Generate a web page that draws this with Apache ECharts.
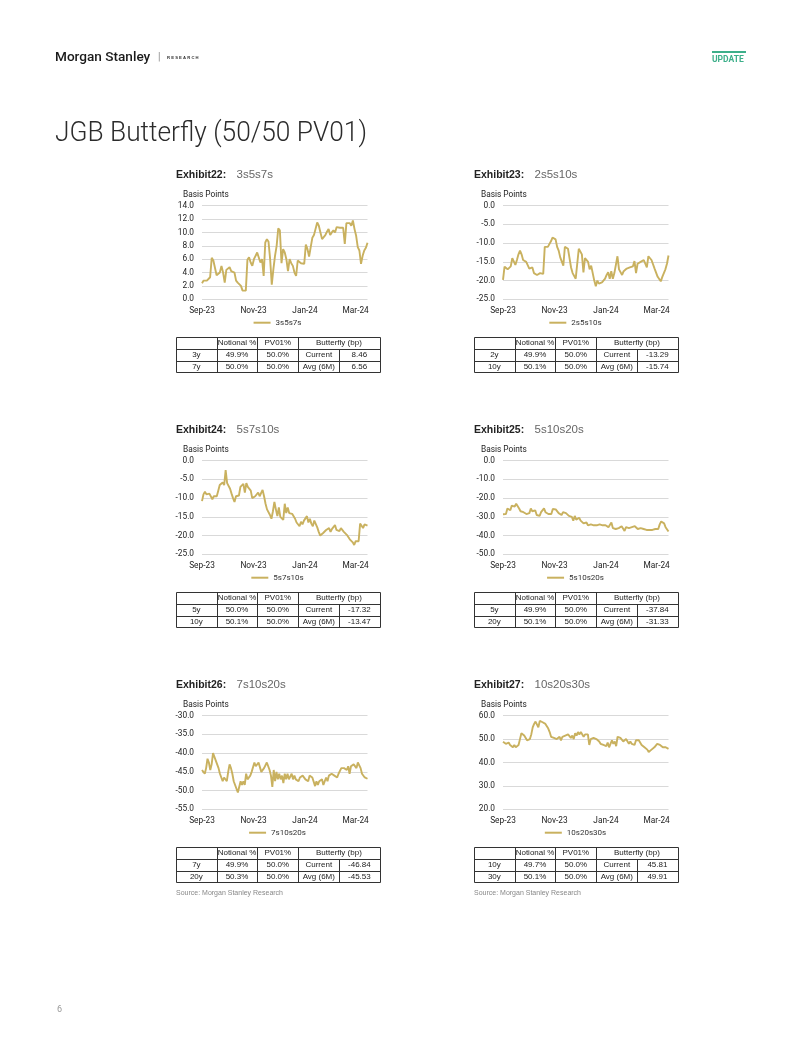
<!DOCTYPE html>
<html>
<head>
<meta charset="utf-8">
<script src="https://cdn.jsdelivr.net/npm/echarts@6.0.0/dist/echarts.min.js"></script>
<style>
html,body{margin:0;padding:0;background:#fff;}
#chart{width:802px;height:1037px;}
</style>
</head>
<body>
<div id="chart"></div>
<script>
// ---------------- DATA ----------------
// x axis: days since 1 Sep 2023; observations run to 15 Mar 2024 (day 196)
const LAST_DAY = 196;
const tickDays = [0, 61, 122, 182];
const tickLabels = ['Sep-23', 'Nov-23', 'Jan-24', 'Mar-24'];

const exhibitLabels = ['Exhibit22:', 'Exhibit23:', 'Exhibit24:', 'Exhibit25:', 'Exhibit26:', 'Exhibit27:'];
const seriesNames = ['3s5s7s', '2s5s10s', '5s7s10s', '5s10s20s', '7s10s20s', '10s20s30s'];

const fly3s5s7s = [2.4,2.8,3.0,2.8,3.0,3.3,6.2,5.8,5.7,3.6,3.7,4.0,5.0,4.0,2.5,4.4,4.5,4.8,4.2,4.0,4.0,2.8,2.5,2.3,2.0,1.3,1.1,1.3,5.9,6.3,5.5,5.0,6.0,6.5,7.0,6.8,5.5,6.0,3.5,8.5,9.0,8.6,6.0,2.2,4.5,6.5,8.0,10.6,10.3,5.4,7.5,7.0,6.0,4.2,6.0,5.4,5.0,4.0,3.5,5.8,5.6,5.4,5.3,5.3,8.2,7.5,6.4,7.8,9.2,9.6,9.8,11.5,11.0,10.0,9.0,9.1,9.6,10.1,10.5,9.6,10.0,10.3,10.0,10.8,10.8,10.7,10.8,10.7,8.3,11.4,11.6,11.4,11.0,11.8,10.5,9.5,7.8,7.3,5.3,6.5,7.3,7.7,8.46];
const fly2s5s10s = [-19.8,-16.3,-16.5,-17,-16.5,-16.2,-14,-14.5,-15.8,-14.5,-13,-12,-13,-14.5,-14,-15,-15.5,-16.8,-17,-16.5,-18,-17.5,-18.5,-19,-18,-18.5,-18.2,-11,-10.5,-11,-10.5,-9.5,-8.5,-8.2,-9,-11,-12,-13.8,-14,-16,-11,-10.5,-11.5,-14,-16.5,-18,-18.5,-19.5,-19.5,-11.5,-11,-13,-17.8,-14,-14.5,-15,-17,-16,-18,-20,-21.5,-20,-20.8,-21,-20.5,-20,-19.5,-18.5,-17.8,-19.5,-17.5,-19.5,-18,-18.5,-13.5,-17,-17.5,-18.5,-17.5,-17,-16.8,-16.5,-16.5,-16,-16.2,-14.8,-18,-15.5,-15.5,-15,-14.5,-14.5,-14.5,-16.5,-13.5,-14,-14.5,-14,-16.8,-17,-19,-19.5,-20.2,-19,-18,-17,-15.5,-13.29];
const fly5s7s10s = [-10.8,-9,-8.3,-9,-9.5,-8.8,-9,-10.3,-9.5,-10,-9.5,-8,-6.5,-6,-5.8,-6.5,-2.5,-6,-6.5,-7.5,-8.8,-10,-11,-9.5,-9.5,-9.3,-7,-6.8,-6.2,-8.5,-6,-7,-6.8,-8,-10,-9.8,-9.5,-9,-8.5,-9.5,-9,-7.8,-9.5,-11.5,-13,-13.5,-14.5,-15.5,-13.5,-11,-13,-14.8,-12.5,-15,-14.5,-15.8,-11.5,-14,-12.5,-14,-13.8,-14.2,-14.5,-15.5,-16.5,-16.8,-17.5,-16.3,-17,-16,-15.5,-14.8,-16.5,-15.5,-16.8,-17.5,-16,-16.5,-17.8,-19,-20,-19.5,-19.3,-18.8,-18.5,-18.5,-18,-19,-18.2,-18.5,-17.2,-18.5,-18.5,-18.8,-18,-18.5,-19,-18.5,-19.8,-20,-21,-21.5,-21.8,-22.5,-21.5,-22,-21.5,-16.8,-17,-18,-17,-16.5,-17.32];
const fly5s10s20s = [-28.6,-29,-28.5,-25.5,-25,-26.5,-24,-23,-24.5,-23,-23.5,-25.5,-27,-26,-27.5,-28.5,-28.5,-29,-28,-25.5,-27,-27.5,-26.5,-29,-28,-29.5,-27.5,-28.5,-25.5,-27.5,-26.5,-28.5,-28.8,-28.5,-25.8,-25.5,-26,-27,-28,-28.5,-29,-27.5,-28.5,-28,-27.5,-29.5,-28.5,-30,-32,-29.5,-31.5,-32.5,-30.5,-32,-32,-33.5,-32.5,-33,-34.5,-33.5,-34,-35,-34.5,-33.5,-34.5,-35,-34,-34.5,-34.5,-34,-34.5,-35,-35.5,-36.5,-33,-36,-36,-36.5,-35.5,-36,-35.5,-35,-35.5,-37.5,-35.5,-35,-36,-36,-35.5,-35.5,-35,-35.5,-36.5,-37.5,-36,-35.5,-36.5,-36.5,-37,-36.8,-37,-36.2,-37,-36.5,-36.5,-36,-36.5,-34,-32.5,-32.5,-33.5,-35.5,-36.5,-37.84];
const fly7s10s20s = [-44.5,-45,-45.5,-44,-41.5,-42.5,-44.5,-43,-40,-41,-42,-42.5,-44,-45.5,-46.5,-47.5,-46.5,-47,-47.5,-45,-43,-44,-45.5,-47.5,-48.5,-49.5,-50.5,-50,-47.5,-48.5,-47.5,-48.5,-45.5,-47,-46.5,-46,-45,-44.5,-42.5,-43.5,-43,-42.5,-43,-45,-44.5,-44,-43.5,-42.5,-43.5,-44.5,-46,-49,-44.5,-47.5,-45,-47,-45.5,-47,-46,-48,-45.5,-47,-45.5,-47,-46.5,-45.5,-47,-46,-47,-46.5,-47.5,-46.5,-47,-46,-46.5,-47,-46.5,-47.5,-46,-45.5,-46.5,-47,-48.8,-47.5,-48.5,-47.5,-48,-47,-48.5,-47.5,-46.5,-47.5,-46,-46.5,-45.5,-45,-46,-45.5,-46.5,-45.5,-45,-44,-44.5,-44,-43.5,-44.5,-43.5,-45.5,-43.5,-44,-43,-43.5,-44,-42.5,-43,-44,-45.5,-45,-46.5,-47,-46.84];
const fly10s20s30s = [48.9,49.5,48,47.5,48.5,47.5,47.5,46.5,47.5,46.5,46.5,47.5,50,52.5,52,51.5,52,49.5,49,50,52,55,56.5,57.5,57,55,57.8,57.5,57.2,56.5,56.5,55.5,54.5,53,51,50.5,50.5,51,50,50.5,51,49.5,51,50.5,51.5,51,52,51.5,50.5,51.5,50,52.5,51.5,53,52,53,52.5,51,52,51.5,52,47.5,50,50.5,50.5,50,50,49.5,49,48,48.5,47.5,48,47,48.5,46.5,47,49.5,48,49,47,51,51.5,50.5,50,49,49.5,50,49.5,48,49,48,48.5,47.5,49.5,50,49.5,49.5,47.5,47,46.5,47,45.5,44.5,45,45.5,45,46.5,46,48,47.5,47.5,48,46.5,47,46.5,46,45.81];
const seriesValues = [fly3s5s7s, fly2s5s10s, fly5s7s10s, fly5s10s20s, fly7s10s20s, fly10s20s30s];

const yMins = [0, -25, -25, -50, -55, 20];
const yMaxs = [14, 0, 0, 0, -30, 60];
const yIntervals = [2, 5, 5, 10, 5, 10];

const tableHeader = ['', 'Notional %', 'PV01%', 'Butterfly (bp)'];
const legTenors = [['3y','7y'], ['2y','10y'], ['5y','10y'], ['5y','20y'], ['7y','20y'], ['10y','30y']];
const notionalPct = [['49.9%','50.0%'], ['49.9%','50.1%'], ['50.0%','50.1%'], ['49.9%','50.1%'], ['49.9%','50.3%'], ['49.7%','50.1%']];
const pv01Pct = [['50.0%','50.0%'], ['50.0%','50.0%'], ['50.0%','50.0%'], ['50.0%','50.0%'], ['50.0%','50.0%'], ['50.0%','50.0%']];
const statLabels = ['Current', 'Avg (6M)'];
const currentBp = ['8.46', '-13.29', '-17.32', '-37.84', '-46.84', '45.81'];
const avg6mBp = ['6.56', '-15.74', '-13.47', '-31.33', '-45.53', '49.91'];

// ---------------- STYLE / LAYOUT ----------------
const LINE_COLOR = '#C9B15F';
const GRID_COLOR = '#D9D9D9';
const FONT = 'Roboto, "Liberation Sans", Arial, sans-serif';
const TFONT = '"Liberation Sans", Arial, sans-serif';
const COL_TEXT_X = [176, 474];
const COL_GRID_X = [202, 503];
const GRID_W = 165.5;
const ROW_STEP = 255;
const GRID_TOP0 = 205.7;
const GRID_H = 93.6;
const TABLE_COLS = [0, 40.7, 81.3, 122.3, 163.3, 203.5];
const TABLE_TOP0 = 337;
const TABLE_ROWS = [0, 12.3, 23.6, 35];

const measureCtx = document.createElement('canvas').getContext('2d');
function textWidth(t, font) { measureCtx.font = font; return measureCtx.measureText(t).width; }
function fmtDay(v) { const k = tickDays.indexOf(Math.round(v)); return k >= 0 ? tickLabels[k] : ''; }
const px = v => Math.round(v) + 0.5;

const grids = [], xAxes = [], yAxes = [], series = [], legends = [], elements = [];

function addText(x, y, text, style, extra) {
  elements.push(Object.assign({ type: 'text', x: x, y: y, silent: true,
    style: Object.assign({ text: text, fill: '#222', fontSize: 8, fontFamily: TFONT, align: 'left', verticalAlign: 'middle' }, style || {}) }, extra || {}));
}
function addLine(x1, y1, x2, y2, color, w) {
  elements.push({ type: 'line', silent: true, shape: { x1: x1, y1: y1, x2: x2, y2: y2 },
    style: { stroke: color || '#333', lineWidth: w || 1 } });
}

// Header
addText(55, 57.5, 'Morgan Stanley', { fontSize: 13.6, fontWeight: 500, fontFamily: FONT, fill: '#1a1a1a' });
addText(158, 57.5, '|', { fontSize: 10, fontFamily: FONT, fill: '#888' });
addText(167, 58, 'R E S E A R C H', { fontSize: 4.2, fontWeight: 'bold', fontFamily: TFONT, fill: '#333' });
elements.push({ type: 'rect', silent: true, shape: { x: 712, y: 51, width: 34, height: 2 }, style: { fill: '#3DAF8A' } });
addText(712, 59.5, 'UPDATE', { fontSize: 8.5, fontWeight: 'bold', fontFamily: FONT, fill: '#3DAF8A' });
const TITLE = 'JGB Butterfly (50/50 PV01)';
const titleFont = '300 28px ' + FONT;
const titleScale = 312 / textWidth(TITLE, titleFont);
addText(0, 0, TITLE, { fontSize: 28, fontWeight: 300, fontFamily: FONT, fill: '#2b2b2b' },
        { x: 55, y: 133.5, scaleX: Math.min(1, titleScale) });
addText(57, 1010, '6', { fontSize: 9, fontFamily: FONT, fill: '#999' });

for (let i = 0; i < 6; i++) {
  const col = i % 2, row = Math.floor(i / 2);
  const tx = COL_TEXT_X[col], off = row * ROW_STEP;
  const gTop = GRID_TOP0 + off;

  addText(tx, 174.7 + off, exhibitLabels[i], { fontSize: 10.5, fontWeight: 'bold', fill: '#222' });
  addText(tx + 60.5, 174.7 + off, seriesNames[i], { fontSize: 11.5, fill: '#666' });
  addText(tx + 7, 195.3 + off, 'Basis Points', { fontSize: 8.3, fontFamily: FONT, fill: '#222' });

  grids.push({ left: COL_GRID_X[col], top: gTop, width: GRID_W, height: GRID_H });
  xAxes.push({
    type: 'value', gridIndex: i, min: 0, max: LAST_DAY,
    axisLine: { show: false }, axisTick: { show: false }, splitLine: { show: false },
    axisLabel: { customValues: tickDays, formatter: fmtDay, fontSize: 8.3, fontFamily: FONT, color: '#222', margin: 8 }
  });
  yAxes.push({
    type: 'value', gridIndex: i, min: yMins[i], max: yMaxs[i], interval: yIntervals[i],
    axisLine: { show: false }, axisTick: { show: false },
    splitLine: { show: true, lineStyle: { color: GRID_COLOR, width: 1 } },
    axisLabel: { formatter: v => v.toFixed(1), fontSize: 8.3, fontFamily: FONT, color: '#222', margin: 8 }
  });
  const n = seriesValues[i].length;
  series.push({
    name: seriesNames[i], type: 'line', xAxisIndex: i, yAxisIndex: i, symbol: 'none',
    lineStyle: { color: LINE_COLOR, width: 1.9 }, itemStyle: { color: LINE_COLOR },
    data: seriesValues[i].map((v, k) => [k * LAST_DAY / (n - 1), v]),
    animation: false
  });

  const lw = 17 + 5 + textWidth(seriesNames[i], '8px ' + FONT);
  const cx = tx + 101.5;
  legends.push({
    data: [{ name: seriesNames[i], icon: 'rect' }], left: cx - lw / 2, top: 322.7 + off - 5, padding: 0,
    itemWidth: 17, itemHeight: 2, selectedMode: false,
    itemStyle: { color: LINE_COLOR },
    textStyle: { fontSize: 8, fontFamily: FONT, color: '#333', lineHeight: 10 }
  });

  const X = TABLE_COLS.map(c => tx + c);
  const Y = TABLE_ROWS.map(r => TABLE_TOP0 + off + r);
  const xs = X.map(px), ys = Y.map(px);
  ys.forEach(y => addLine(xs[0], y, xs[5], y));
  [0, 1, 2, 3, 5].forEach(k => addLine(xs[k], ys[0], xs[k], ys[3]));
  addLine(xs[4], ys[1], xs[4], ys[3]);
  const mid = (a, b) => (a + b) / 2;
  addText(mid(X[1], X[2]), mid(Y[0], Y[1]), tableHeader[1], { align: 'center' });
  addText(mid(X[2], X[3]), mid(Y[0], Y[1]), tableHeader[2], { align: 'center' });
  addText(mid(X[3], X[5]), mid(Y[0], Y[1]), tableHeader[3], { align: 'center' });
  for (let r = 0; r < 2; r++) {
    const yy = mid(Y[r + 1], Y[r + 2]);
    addText(mid(X[0], X[1]), yy, legTenors[i][r], { align: 'center' });
    addText(mid(X[1], X[2]), yy, notionalPct[i][r], { align: 'center' });
    addText(mid(X[2], X[3]), yy, pv01Pct[i][r], { align: 'center' });
    addText(mid(X[3], X[4]), yy, statLabels[r], { align: 'center' });
    addText(mid(X[4], X[5]), yy, r === 0 ? currentBp[i] : avg6mBp[i], { align: 'center' });
  }
}
addText(176, 892.7, 'Source: Morgan Stanley Research', { fontSize: 7, fill: '#888' });
addText(474, 892.7, 'Source: Morgan Stanley Research', { fontSize: 7, fill: '#888' });

const chart = echarts.init(document.getElementById('chart'), null, { renderer: 'canvas' });
chart.setOption({
  backgroundColor: '#fff',
  animation: false,
  grid: grids, xAxis: xAxes, yAxis: yAxes, series: series, legend: legends,
  graphic: { elements: elements }
});
</script>
</body>
</html>
